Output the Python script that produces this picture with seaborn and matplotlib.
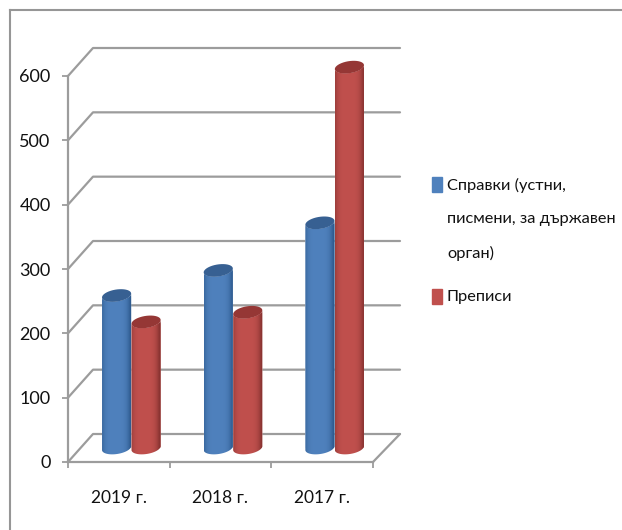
import numpy as np
import pandas as pd
import matplotlib
matplotlib.use("Agg")
import matplotlib.pyplot as plt
from matplotlib.lines import Line2D
from matplotlib.patches import Polygon, Rectangle
from matplotlib.path import Path
from matplotlib.transforms import IdentityTransform
import seaborn as sns

# Data
years = ["2019 г.", "2018 г.", "2017 г."]
spravki = [237, 276, 350]
prepisi = [196, 211, 592]
series_names = ["Справки", "Преписи"]
y_ticks = [0, 100, 200, 300, 400, 500, 600]

W, H = 622, 530
GRAY = "#9c9c9c"
BLUE = "#4f81bd"
RED = "#c0504d"

sns.set_theme(style="white")
plt.rcParams["font.family"] = ["Lato", "Roboto", "DejaVu Sans"]

df = pd.DataFrame({
    "year": years * 2,
    "value": spravki + prepisi,
    "series": [series_names[0]] * 3 + [series_names[1]] * 3,
})

fig = plt.figure(figsize=(W / 100, H / 100), dpi=100, facecolor="white")


def box(left, top, right, bottom):
    return [left / W, (H - bottom) / H, (right - left) / W, (bottom - top) / H]


# outer frame
frame = fig.add_axes(box(10, 10, 640, 560), facecolor="none")
frame.set_xticks([])
frame.set_yticks([])
for side in ["right", "bottom"]:
    frame.spines[side].set_visible(False)
for side in ["left", "top"]:
    frame.spines[side].set_color("#969696")
    frame.spines[side].set_linewidth(1.5)

# front plane of the fake 3D box: carries the axes and tick labels
ax = fig.add_axes(box(68, 76, 373, 462), facecolor="none")
ax.set_xlim(-0.5, 2.5)
ax.set_ylim(0, 600)
ax.set_yticks(y_ticks)
ax.set_xticks([-0.5, 0.5, 1.5, 2.5])
ax.set_xticklabels([])
ax.set_xticks([0, 1, 2], labels=years, minor=True)
ax.tick_params(axis="y", which="major", left=True, length=4.5, width=1.3, color=GRAY,
               labelsize=13, pad=8, labelcolor="#111111")
ax.tick_params(axis="x", which="major", bottom=True, length=4.5, width=1.3, color=GRAY)
ax.tick_params(axis="x", which="minor", bottom=False, length=0, labelsize=12.5, pad=20,
               labelcolor="#111111")
for side in ["top", "right"]:
    ax.spines[side].set_visible(False)
for side in ["left", "bottom"]:
    ax.spines[side].set_color(GRAY)
    ax.spines[side].set_linewidth(1.6)

# depth lines: back wall gridlines and the slanted side lines
DX, DY = 25, 28
fig.canvas.draw()
for val in y_ticks:
    x0, y0 = ax.transData.transform((-0.5, val))
    x1, _ = ax.transData.transform((2.5, val))
    fig.add_artist(Line2D([x0, x0 + DX, x1 + DX + 2], [y0, y0 + DY, y0 + DY], color=GRAY,
                          lw=1.6, transform=IdentityTransform(), zorder=1))
x0, y0 = ax.transData.transform((2.5, 0))
fig.add_artist(Line2D([x0, x0 + DX + 2], [y0, y0 + DY], color=GRAY, lw=1.6,
                      transform=IdentityTransform(), zorder=1))

# bars live on a plane half way into the box
bar_ax = fig.add_axes(box(68 + 12.5, 76 - 14, 373 + 12.5, 462 - 14), facecolor="none", zorder=5)
sns.barplot(data=df, x="year", y="value", hue="series", hue_order=series_names,
            palette=[BLUE, RED], width=0.58, gap=0, saturation=1, legend=False, ax=bar_ax)
bar_ax.set_xlim(-0.5, 2.5)
bar_ax.set_ylim(0, 600)
bar_ax.axis("off")
fig.canvas.draw()


def tilted_half(cx, cy, a, b, start, stop, tilt=np.radians(9)):
    t = np.linspace(start, stop, 40)
    x = a * np.cos(t)
    y = b * np.sin(t)
    return np.c_[cx + x * np.cos(tilt) - y * np.sin(tilt),
                 cy + x * np.sin(tilt) + y * np.cos(tilt)]


def shade(base, edge):
    c0 = np.array(matplotlib.colors.to_rgb(edge))
    c1 = np.array(matplotlib.colors.to_rgb(base))
    pos = np.linspace(-1, 1, 60)
    k = np.clip(1 - np.abs(pos + 0.1) ** 4, 0, 1)[:, None]
    return (c0 + (c1 - c0) * k)[None, :, :]


styles = [(BLUE, "#2f5c90", "#376092")] * 3 + [(RED, "#8a3432", "#953735")] * 3
for patch, (base, edge, cap) in zip(bar_ax.patches, styles):
    x, w, h = patch.get_x(), patch.get_width(), patch.get_height()
    (px0, py0), (px1, py1) = bar_ax.transData.transform([(x, 0), (x + w, h)])
    cx, a = (px0 + px1) / 2, (px1 - px0) / 2
    lower = tilted_half(cx, py0, a, 6, np.pi, 2 * np.pi)
    upper = tilted_half(cx, py1, a, 6, 2 * np.pi, np.pi)
    outline = Path(np.vstack([lower, upper, lower[:1]]), closed=True)
    patch.set_clip_path(outline, IdentityTransform())
    img = bar_ax.imshow(shade(base, edge), extent=(x, x + w, -20, h + 20), aspect="auto",
                        interpolation="bilinear", zorder=3)
    img.set_clip_box(fig.bbox)
    img.set_clip_path(outline, IdentityTransform())
    top = tilted_half(cx, py1, a, 6, 0, 2 * np.pi)
    bar_ax.add_patch(Polygon(top, closed=True, facecolor=cap, edgecolor="none",
                             transform=IdentityTransform(), zorder=4, clip_on=False))
bar_ax.set_xlim(-0.5, 2.5)
bar_ax.set_ylim(0, 600)

# legend, handle lines up with the first text row as in the original
fig.add_artist(Rectangle((432 / W, (H - 192) / H), 10 / W, 15 / H, color=BLUE,
                         transform=fig.transFigure))
fig.add_artist(Rectangle((432 / W, (H - 304) / H), 10 / W, 15 / H, color=RED,
                         transform=fig.transFigure))
for text, y in [("Справки (устни,", 185), ("писмени, за държавен", 219),
                ("орган)", 253), ("Преписи", 297)]:
    fig.text(447 / W, (H - y) / H, text, fontsize=11.8, color="#111111", va="center", ha="left")

fig.savefig("out.png", dpi=100, facecolor="white")
